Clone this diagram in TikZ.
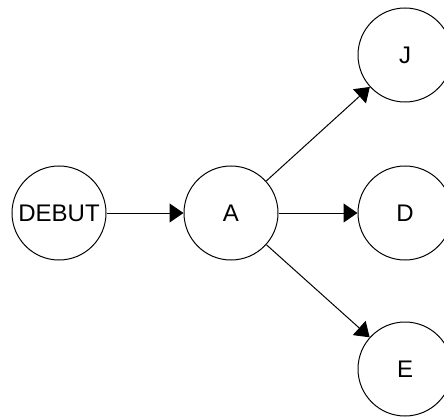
\documentclass[tikz,border=0pt]{standalone}
\usepackage{fontspec}
\setmainfont{Liberation Sans}
\usetikzlibrary{arrows.meta}
\usetikzlibrary{positioning}

\tikzset{
  etat/.style={circle,draw,line width=1pt,minimum size=94pt,inner sep=0pt,
    font=\fontsize{24}{28}\selectfont},
  fleche/.style={line width=1pt,-{Triangle[length=14pt,width=19pt]}}
}

\begin{document}
\begin{tikzpicture}[x=1pt,y=-1pt]
\useasboundingbox (0,0) rectangle (444,417);
% etats
\node[etat] (debut) at (59,213) {DEBUT};
\node[etat] (a) at (231,213) {A};
\node[etat] (j) at (405,55) {J};
\node[etat] (d) at (405,213) {D};
\node[etat] (e) at (405,369) {E};
% fleches
\draw[fleche] (debut) -- (a);
\draw[fleche] (a) -- (j);
\draw[fleche] (a) -- (d);
\draw[fleche] (a) -- (e);
\end{tikzpicture}
\end{document}
